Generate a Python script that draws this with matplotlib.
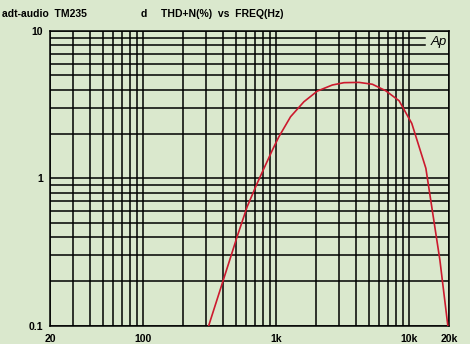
import matplotlib.pyplot as plt
import numpy as np

# THD+N (%) vs frequency
freq_hz = [312, 449, 510, 607, 722, 834, 938, 1050, 1288, 1622, 2046, 2654,
           3246, 4210, 5312, 6688, 8434, 10500, 13400, 17080, 19600]
thd_pct = [0.1, 0.279, 0.401, 0.641, 0.925, 1.23, 1.55, 1.91, 2.62, 3.31, 3.91, 4.30,
           4.46, 4.48, 4.35, 3.93, 3.36, 2.36, 1.17, 0.279, 0.1]

x_ticks = [20, 100, 1000, 10000, 20000]
x_labels = ["20", "100", "1k", "10k", "20k"]
y_ticks = [0.1, 1, 10]
y_labels = ["0.1", "1", "10"]

bg = "#dae8cd"
font = "Liberation Sans"

fig = plt.figure(figsize=(4.7, 3.44), dpi=100, facecolor=bg)
ax = fig.add_axes([50 / 470, (344 - 325.7) / 344, 399 / 470, (325.7 - 31) / 344])
ax.set_facecolor(bg)
ax.set_xscale("log")
ax.set_yscale("log")
ax.set_xlim(20, 20000)
ax.set_ylim(0.1, 10)

# grid lines
xgrid = [m * 10 ** e for e in (1, 2, 3, 4) for m in range(1, 10) if 20 <= m * 10 ** e <= 20000]
for xv in xgrid:
    ax.axvline(xv, color="black", lw=1.1, zorder=1)
ygrid = [m * 10 ** e for e in (-1, 0) for m in range(1, 10)] + [10]
for yv in ygrid:
    # lines at 8 and 9 stop short to make room for the Ap logo
    xmax = 0.94 if yv in (8, 9) else 1.0
    ax.axhline(yv, xmax=xmax, color="black", lw=1.1, zorder=1)

ax.plot(freq_hz, thd_pct, color="#cc1a2e", lw=1.2, zorder=3)

ax.set_xticks(x_ticks)
ax.set_xticklabels(x_labels)
ax.set_yticks(y_ticks)
ax.set_yticklabels(y_labels)
ax.minorticks_off()
ax.tick_params(axis="x", length=0, pad=6)
ax.tick_params(axis="y", length=0, pad=5)
for lab in ax.get_xticklabels() + ax.get_yticklabels():
    lab.set_fontfamily(font)
    lab.set_fontweight("bold")
    lab.set_fontsize(7.5)
for s in ax.spines.values():
    s.set_linewidth(1.1)

ty = 1 - 17 / 344
fig.text(2 / 470, ty, "adt-audio  TM235", fontfamily=font, fontweight="bold", fontsize=7.5)
fig.text(141 / 470, ty, "d", fontfamily=font, fontweight="bold", fontsize=7.5)
fig.text(161 / 470, ty, "THD+N(%)  vs  FREQ(Hz)", fontfamily=font, fontweight="bold", fontsize=7.5)
ax.text(0.955, 0.962, "Ap", transform=ax.transAxes, fontfamily=font, style="italic",
        fontsize=9.5, va="center", ha="left")

fig.savefig("out.png", dpi=100, facecolor=bg)
